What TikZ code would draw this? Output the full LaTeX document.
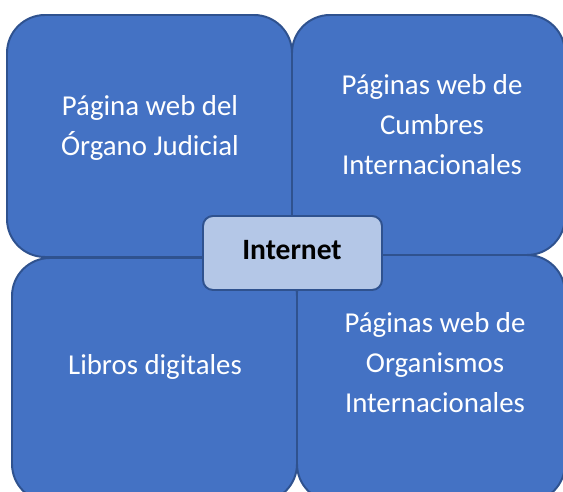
\documentclass[tikz,border=0pt]{standalone}
\usepackage{fontspec}
\setmainfont{Carlito}
\definecolor{cellblue}{HTML}{4472C4}
\definecolor{celledge}{HTML}{2F528F}
\definecolor{hubblue}{HTML}{B4C7E7}
\begin{document}
\begin{tikzpicture}[font=\fontsize{20.5}{28.45}\selectfont]
                \useasboundingbox (0,0) rectangle (14.075,12.3);
                \clip (0,0) rectangle (14.075,12.3);

                \tikzset{
                    cell/.style = {draw=celledge, fill=cellblue, line width=1.4pt, rounded corners=0.95cm, inner sep=0pt},
                    celltext/.style = {align=center, text=white},
                    hub/.style = {draw=celledge, fill=hubblue, line width=1.4pt, rounded corners=0.25cm,
                            minimum width=4.475cm, minimum height=1.85cm, inner sep=0pt},
                }

                % the four quadrants
                \node[cell, minimum width=7.125cm, minimum height=6.05cm] (judicial) at (3.7375,8.9) {};
                \node[cell, minimum width=6.825cm, minimum height=6.0cm] (cumbres) at (10.7125,8.925) {};
                \node[cell, minimum width=7.125cm, minimum height=6.1cm] (libros) at (3.8625,2.8) {};
                \node[cell, minimum width=6.7cm, minimum height=6.175cm] (organismos) at (10.775,2.8375) {};

                \node[celltext] (tjudicial) at (3.75,9.1) {Página web del\\Órgano Judicial};
                \node[celltext] (tcumbres) at (10.8,9.175) {Páginas web de\\Cumbres\\Internacionales};
                \node[celltext] (tlibros) at (3.875,3.125) {Libros digitales};
                \node[celltext] (torganismos) at (10.875,3.225) {Páginas web de\\Organismos\\Internacionales};

                % centre
                \node[hub] (internet) at (7.3125,5.975) {};
                \node[font=\fontsize{21}{28.45}\selectfont\bfseries] (tinternet) at (7.3,6.06) {Internet};

            \end{tikzpicture}
\end{document}
